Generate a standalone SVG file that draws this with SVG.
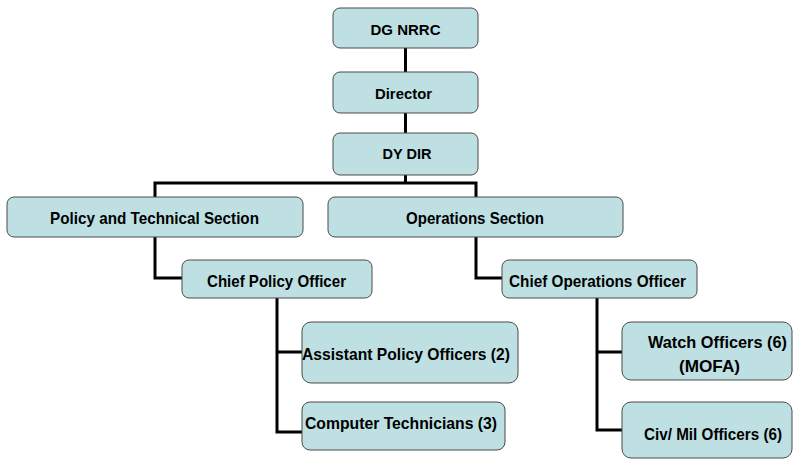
<svg xmlns="http://www.w3.org/2000/svg" width="797" height="460" viewBox="0 0 797 460">
  <defs>
    <style>
      .box { fill: #BEE0E3; stroke: #4a4a4a; stroke-width: 1; }
      .lbl { font-family: "Liberation Sans", Arial, sans-serif; font-weight: bold; font-size: 17px; fill: #000; text-anchor: middle; }
      .top { font-size: 15.5px; }
      .wire { fill: none; stroke: #000; stroke-width: 3; }
    </style>
  </defs>
  <rect width="797" height="460" fill="#fff"/>

  <!-- connectors -->
  <g id="connectors">
    <path class="wire" d="M405.5,48 V72"/>
    <path class="wire" d="M405.5,113 V133"/>
    <path class="wire" d="M405.5,175 V183 M155,197 V183 H476 V197"/>
    <path class="wire" d="M155,237 V278 H182"/>
    <path class="wire" d="M476,237 V278 H502"/>
    <path class="wire" d="M277,298 V432 H302 M277,352 H302"/>
    <path class="wire" d="M597,298 V430 H622 M597,352 H622"/>
  </g>

  <g id="dg-nrrc">
    <rect class="box" x="333" y="8" width="145" height="40" rx="7"/>
    <text class="lbl top" x="405.5" y="35" textLength="70" lengthAdjust="spacingAndGlyphs">DG NRRC</text>
  </g>
  <g id="director">
    <rect class="box" x="333" y="72" width="145" height="41" rx="7"/>
    <text class="lbl top" x="403.5" y="98.5" textLength="57" lengthAdjust="spacingAndGlyphs">Director</text>
  </g>
  <g id="dy-dir">
    <rect class="box" x="333" y="133" width="145" height="42" rx="7"/>
    <text class="lbl top" x="407" y="158.5" textLength="49" lengthAdjust="spacingAndGlyphs">DY DIR</text>
  </g>
  <g id="policy-section">
    <rect class="box" x="7" y="197" width="296" height="40" rx="7"/>
    <text class="lbl" x="154.5" y="224" textLength="209" lengthAdjust="spacingAndGlyphs">Policy and Technical Section</text>
  </g>
  <g id="operations-section">
    <rect class="box" x="328" y="197" width="295" height="40" rx="7"/>
    <text class="lbl" x="475" y="224" textLength="138" lengthAdjust="spacingAndGlyphs">Operations Section</text>
  </g>
  <g id="chief-policy">
    <rect class="box" x="182" y="260" width="190" height="38" rx="7"/>
    <text class="lbl" x="276.5" y="286.5" textLength="139" lengthAdjust="spacingAndGlyphs">Chief Policy Officer</text>
  </g>
  <g id="chief-operations">
    <rect class="box" x="502" y="260" width="195" height="38" rx="7"/>
    <text class="lbl" x="597.5" y="286.5" textLength="177" lengthAdjust="spacingAndGlyphs">Chief Operations Officer</text>
  </g>
  <g id="assistant-policy">
    <rect class="box" x="302" y="322" width="216" height="61" rx="9"/>
    <text class="lbl" x="406" y="360" textLength="208" lengthAdjust="spacingAndGlyphs">Assistant Policy Officers (2)</text>
  </g>
  <g id="computer-technicians">
    <rect class="box" x="302" y="402" width="203" height="48" rx="8"/>
    <text class="lbl" x="401" y="429" textLength="192" lengthAdjust="spacingAndGlyphs">Computer Technicians (3)</text>
  </g>
  <g id="watch-officers">
    <rect class="box" x="622" y="322" width="170" height="58" rx="9"/>
    <text class="lbl" x="717.5" y="347.5" textLength="139" lengthAdjust="spacingAndGlyphs">Watch Officers (6)</text>
    <text class="lbl" x="709.5" y="371.5" textLength="61" lengthAdjust="spacingAndGlyphs">(MOFA)</text>
  </g>
  <g id="civ-mil-officers">
    <rect class="box" x="622" y="402" width="170" height="56" rx="9"/>
    <text class="lbl" x="713" y="440" textLength="138" lengthAdjust="spacingAndGlyphs">Civ/ Mil Officers (6)</text>
  </g>
</svg>
